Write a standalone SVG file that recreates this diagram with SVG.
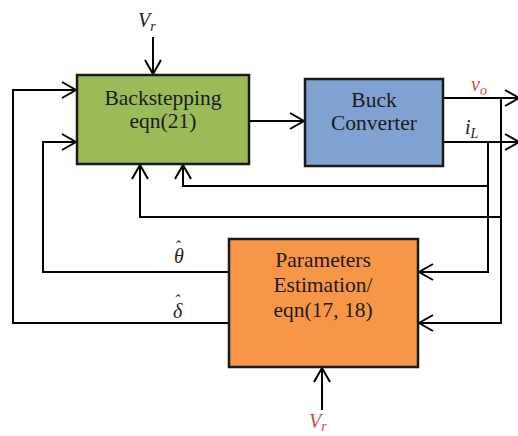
<svg xmlns="http://www.w3.org/2000/svg" width="518" height="436" viewBox="0 0 518 436">
<style>
.box{stroke:#1a1a1a;stroke-width:2.5}
.lbl{font-family:"Liberation Serif","Times New Roman",serif;font-size:21.5px;fill:#1a1a1a;text-anchor:middle}
.math{font-family:"Liberation Serif","Times New Roman",serif;font-style:italic;font-size:20px;fill:#222}
.red{fill:#c0504d}
.c{fill:none;stroke:#000;stroke-width:2}
</style>
<defs>
<marker id="ah" viewBox="-16 -10 18 20" markerWidth="18" markerHeight="20" refX="0" refY="0" orient="auto" markerUnits="userSpaceOnUse">
<path d="M-14,-8 L0,0 L-14,8" fill="none" stroke="#000" stroke-width="2"/>
</marker>
</defs>
<rect width="518" height="436" fill="#fff"/>
<g id="connectors">
<path class="c" d="M153,37 V74" marker-end="url(#ah)"/>
<path class="c" d="M249,121 H304" marker-end="url(#ah)"/>
<path class="c" d="M443,98 H519" marker-end="url(#ah)"/>
<path class="c" d="M443,142 H519" marker-end="url(#ah)"/>
<path class="c" d="M501,98 V323 H419" marker-end="url(#ah)"/>
<path class="c" d="M488,142 V272 H419" marker-end="url(#ah)"/>
<path class="c" d="M488,186 H183 V165" marker-end="url(#ah)"/>
<path class="c" d="M501,217 H140 V165" marker-end="url(#ah)"/>
<path class="c" d="M229,272 H43 V142 H76" marker-end="url(#ah)"/>
<path class="c" d="M229,323 H13 V90 H76" marker-end="url(#ah)"/>
<path class="c" d="M322,410 V368" marker-end="url(#ah)"/>
</g>
<g id="backstepping">
<rect class="box" x="77" y="75" width="172" height="89" fill="#9bbb59"/>
<text class="lbl" x="163" y="105">Backstepping</text>
<text class="lbl" x="163" y="128">eqn(21)</text>
</g>
<g id="buck">
<rect class="box" x="305" y="79" width="138" height="87" fill="#7fa2d1"/>
<text class="lbl" x="374" y="107">Buck</text>
<text class="lbl" x="374" y="130">Converter</text>
</g>
<g id="estimation">
<rect class="box" x="229" y="239" width="189" height="128" fill="#f79646"/>
<text class="lbl" x="323" y="267">Parameters</text>
<text class="lbl" x="323" y="292">Estimation/</text>
<text class="lbl" x="323" y="317">eqn(17, 18)</text>
</g>
<g id="labels">
<text class="math" x="138" y="27">V<tspan font-size="14" dy="4">r</tspan></text>
<text class="math red" x="309" y="428">V<tspan font-size="14" dy="3">r</tspan></text>
<text class="math red" x="471" y="91">v<tspan font-size="14" dy="4">o</tspan></text>
<text class="math" x="465" y="134">i<tspan font-size="14" dy="4">L</tspan></text>
<text class="math" x="174" y="263">θ<tspan dx="-9" dy="-11" font-size="16">ˆ</tspan></text>
<text class="math" x="173" y="318">δ<tspan dx="-8" dy="-12" font-size="16">ˆ</tspan></text>
</g>
</svg>
